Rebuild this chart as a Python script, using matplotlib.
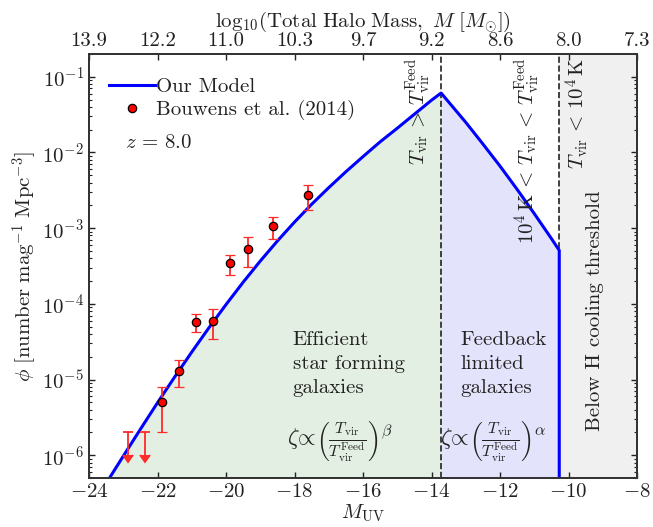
import numpy as np
import matplotlib
matplotlib.use("Agg")
import matplotlib.pyplot as plt
from matplotlib.lines import Line2D

plt.rcParams['font.family'] = 'serif'
plt.rcParams['font.serif'] = ['cmr10']
plt.rcParams['mathtext.fontset'] = 'cm'
plt.rcParams['axes.formatter.use_mathtext'] = True
plt.rcParams['axes.unicode_minus'] = True

# ---------------- data ----------------
# Bouwens et al. (2014), z ~ 8
bouwens_M = [-21.87, -21.37, -20.87, -20.37, -19.87, -19.37, -18.62, -17.62]
bouwens_phi = [0.005e-3, 0.013e-3, 0.058e-3, 0.060e-3, 0.341e-3, 0.529e-3, 1.060e-3, 2.740e-3]
bouwens_err = [0.003e-3, 0.005e-3, 0.015e-3, 0.026e-3, 0.101e-3, 0.224e-3, 0.340e-3, 1.004e-3]
# upper limits
ul_M = [-22.87, -22.37]
ul_phi = [0.002e-3, 0.002e-3]

# model luminosity function, log10 phi
model_M = [-23.4, -23.0, -22.5, -22.0, -21.5, -21.0, -20.5, -20.0, -19.5, -19.0,
           -18.5, -18.0, -17.5, -17.0, -16.5, -16.0, -15.5, -15.0, -14.5, -14.0,
           -13.72, -13.0, -12.5, -12.0, -11.5, -11.0, -10.5, -10.27, -10.27]
model_logphi = [-6.30, -6.012, -5.657, -5.307, -4.967, -4.637, -4.317, -4.01, -3.715, -3.435,
                -3.17, -2.92, -2.685, -2.465, -2.255, -2.055, -1.86, -1.68, -1.495, -1.31,
                -1.215, -1.602, -1.888, -2.18, -2.488, -2.808, -3.137, -3.294, -9.0]

M_feed = -13.72   # T_vir = T_vir^Feed
M_cool = -10.27   # T_vir = 1e4 K

top_tick_pos = [-24, -22, -20, -18, -16, -14, -12, -10, -8]
top_tick_labels = ['13.9', '12.2', '11.0', '10.3', '9.7', '9.2', '8.6', '8.0', '7.3']

# ---------------- plot ----------------
fig = plt.figure(figsize=(6.53, 5.27), dpi=100)
ax = fig.add_axes([0.1363, 0.0930, 0.8392, 0.8046])

xmin, xmax = -24, -8
ymin, ymax = 5e-7, 0.2
ax.set_xlim(xmin, xmax)
ax.set_yscale('log')
ax.set_ylim(ymin, ymax)

mM = np.array(model_M)
mphi = 10 ** np.array(model_logphi)

# shaded regions
green = mM <= M_feed
ax.fill_between(mM[green], mphi[green], 1e-12, color='#e4efe3', zorder=0, lw=0)
blue = (mM >= M_feed)
ax.fill_between(mM[blue], mphi[blue], 1e-12, color='#e3e3fb', zorder=0, lw=0)
ax.axvspan(M_cool, xmax, color='#f0f0f0', zorder=0, lw=0)

ax.axvline(M_feed, color='#222222', ls='--', lw=1.2, zorder=1)
ax.axvline(M_cool, color='#222222', ls='--', lw=1.2, zorder=1)

ax.plot(mM, mphi, color='#0000ff', lw=2.2, zorder=3)

red = '#ff2a2a'
ax.errorbar(bouwens_M, bouwens_phi, yerr=bouwens_err, fmt='o', mfc='red', mec='black',
            mew=0.9, ms=6, ecolor=red, elinewidth=1.3, capsize=3.5, capthick=1.3, zorder=4)
eb = ax.errorbar(ul_M, ul_phi, yerr=np.array(ul_phi) * 0.5, uplims=True, fmt='none',
                 ecolor=red, elinewidth=1.3, capsize=3.5, capthick=1.3, zorder=4)
for cl in eb[1]:
    cl.set_color(red)
    cl.set_markerfacecolor(red)
    cl.set_markeredgecolor(red)

txtc = '#222222'
fs = 15
ax.set_xlabel(r'$M_{\rm UV}$', fontsize=fs, color=txtc, labelpad=1)
ax.set_ylabel(r'$\phi\ [\mathrm{number\ mag}^{-1}\ \mathrm{Mpc}^{-3}]$', fontsize=fs,
              color=txtc, labelpad=2)
ax.set_xticks([-24, -22, -20, -18, -16, -14, -12, -10, -8])

ax.tick_params(which='both', direction='in', right=True, labelsize=fs, colors=txtc)
ax.tick_params(which='major', length=4, width=1)
ax.tick_params(which='minor', length=2.2, width=0.8)
ax.tick_params(axis='x', which='minor', bottom=False, top=False)
for s in ax.spines.values():
    s.set_color('#333333')
    s.set_linewidth(1.3)

# top axis
axt = ax.twiny()
axt.set_xlim(xmin, xmax)
axt.set_xticks(top_tick_pos)
axt.set_xticklabels(top_tick_labels)
axt.tick_params(direction='in', labelsize=fs, colors=txtc, length=4, width=1, pad=3)
axt.set_xlabel(r'$\mathrm{log}_{10}(\mathrm{Total\ Halo\ Mass},\ M\ [M_{\odot}])$', fontsize=fs,
               color=txtc, labelpad=4)
for s in axt.spines.values():
    s.set_color('#333333')
    s.set_linewidth(1.3)

# legend
handles = [Line2D([], [], color='#0000ff', lw=2.2),
           Line2D([], [], ls='none', marker='o', mfc='red', mec='black', mew=0.9, ms=6)]
leg = ax.legend(handles, ['Our Model', 'Bouwens et al. (2014)'], loc='upper left',
                bbox_to_anchor=(0.0213, 0.964), frameon=False, fontsize=fs, handlelength=2.2,
                handletextpad=0.05, labelspacing=0.2, borderaxespad=0.0)
for t in leg.get_texts():
    t.set_color(txtc)
ax.text(0.066, 0.79, r'$z\,=\,8.0$', transform=ax.transAxes, fontsize=fs, color=txtc,
        va='center', ha='left')

# region annotations
ax.text(-14.39, 0.992, r'$T_{\rm vir}\,>\,T_{\rm vir}^{\rm Feed}$', transform=ax.get_xaxis_transform(),
        rotation=90, ha='center', va='top', fontsize=fs, color=txtc)
ax.text(-11.2, 0.992, r'$10^4\,\mathrm{K}\,<\,T_{\rm vir}\,<\,T_{\rm vir}^{\rm Feed}$',
        transform=ax.get_xaxis_transform(), rotation=90, ha='center', va='top', fontsize=fs, color=txtc)
ax.text(-9.75, 0.992, r'$T_{\rm vir}\,<\,10^4\,\mathrm{K}$', transform=ax.get_xaxis_transform(),
        rotation=90, ha='center', va='top', fontsize=fs, color=txtc)
ax.text(-9.23, 0.395, 'Below H cooling threshold', transform=ax.get_xaxis_transform(),
        rotation=90, ha='center', va='center', fontsize=fs, color=txtc)

ax.text(0.372, 0.347, 'Efficient\nstar forming\ngalaxies', transform=ax.transAxes,
        ha='left', va='top', fontsize=fs, color=txtc, linespacing=1.45)
ax.text(0.677, 0.347, 'Feedback\nlimited\ngalaxies', transform=ax.transAxes,
        ha='left', va='top', fontsize=fs, color=txtc, linespacing=1.45)
ax.text(0.361, 0.085, r'$\zeta\!\propto\!\left(\frac{T_{\rm vir}}{T_{\rm vir}^{\rm Feed}}\right)^{\beta}$',
        transform=ax.transAxes, ha='left', va='center', fontsize=16.5, color=txtc)
ax.text(0.6405, 0.085, r'$\zeta\!\propto\!\left(\frac{T_{\rm vir}}{T_{\rm vir}^{\rm Feed}}\right)^{\alpha}$',
        transform=ax.transAxes, ha='left', va='center', fontsize=16.5, color=txtc)

fig.savefig('out.png', dpi=100)
